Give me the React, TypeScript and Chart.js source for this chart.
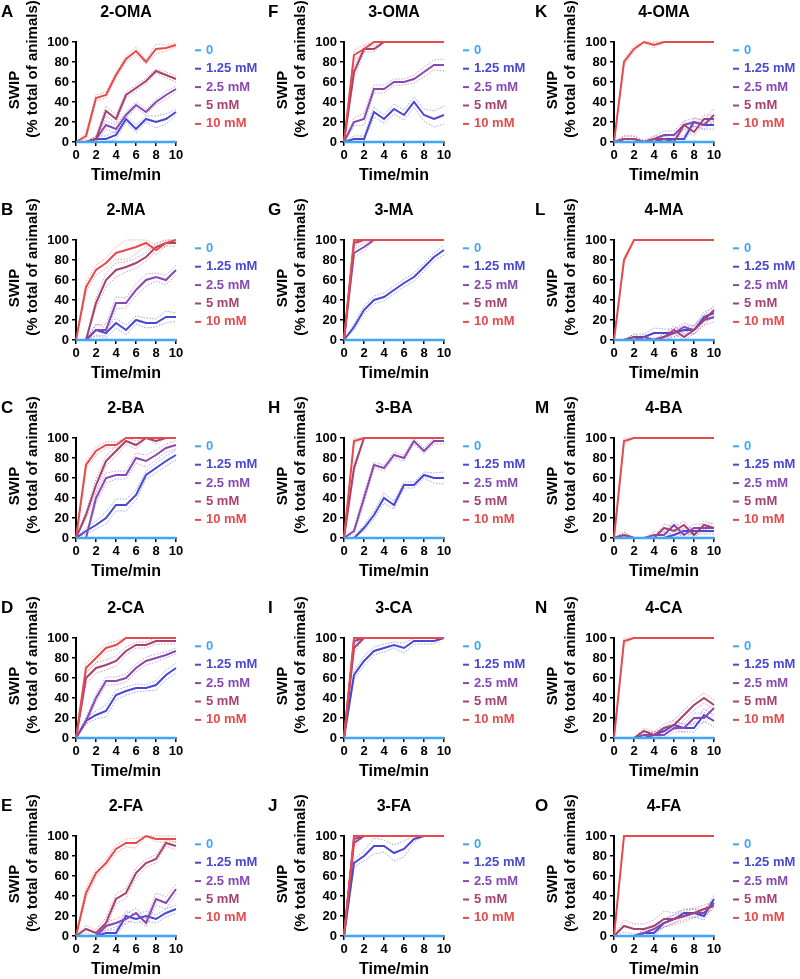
import React, { useEffect, useRef } from "react";
import { Chart, registerables } from "chart.js";

Chart.register(...registerables);

// ---------------- DATA ----------------
const minutes = [0, 1, 2, 3, 4, 5, 6, 7, 8, 9, 10];
const xTickValues = [0, 2, 4, 6, 8, 10];
const yTickValues = [0, 20, 40, 60, 80, 100];
const doseLabels = ["0", "1.25 mM", "2.5 mM", "5 mM", "10 mM"];
const doseColors = ["#3fa6f5", "#4848d4", "#8748b3", "#a5426f", "#e64a4c"];
const bandColors = [
  "rgba(63,166,245,0.5)",
  "rgba(72,72,212,0.5)",
  "rgba(135,72,179,0.5)",
  "rgba(165,66,111,0.5)",
  "rgba(230,74,76,0.5)",
];
const panelLetters = ["A", "B", "C", "D", "E", "F", "G", "H", "I", "J", "K", "L", "M", "N", "O"];
const panelTitles = [
  "2-OMA", "2-MA", "2-BA", "2-CA", "2-FA",
  "3-OMA", "3-MA", "3-BA", "3-CA", "3-FA",
  "4-OMA", "4-MA", "4-BA", "4-CA", "4-FA",
];
const yTitleLines = ["SWIP", "(% total of animals)"];
const xTitle = "Time/min";

// control (0) series, identical in every panel
const control0 = [0, 0, 0, 0, 0, 0, 0, 0, 0, 0, 0];

// means: [1.25 mM, 2.5 mM, 5 mM, 10 mM]
const mean2OMA = [
  [0, 0, 3, 3, 7, 23, 13, 23, 20, 23, 30],
  [0, 0, 3, 17, 13, 27, 37, 30, 40, 47, 53],
  [0, 0, 3, 31, 23, 47, 54, 61, 71, 67, 63],
  [0, 6, 44, 47, 67, 83, 91, 80, 93, 94, 97],
];
const sem2OMA = [
  [0, 0, 3, 3, 4, 3, 4, 3, 6, 5, 3],
  [0, 0, 3, 4, 4, 3, 3, 3, 3, 4, 3],
  [0, 0, 3, 5, 4, 3, 3, 3, 2, 3, 3],
  [0, 3, 3, 3, 3, 3, 4, 2, 5, 3, 2],
];
const mean2MA = [
  [0, 0, 10, 7, 17, 10, 20, 17, 17, 23, 23],
  [0, 0, 10, 10, 37, 37, 50, 60, 63, 60, 70],
  [0, 0, 37, 60, 70, 73, 77, 83, 93, 97, 97],
  [0, 53, 70, 77, 87, 90, 93, 97, 90, 97, 100],
];
const sem2MA = [
  [0, 0, 6, 5, 5, 5, 4, 5, 4, 6, 4],
  [0, 0, 5, 6, 6, 5, 6, 6, 4, 5, 5],
  [0, 0, 5, 7, 7, 5, 5, 4, 4, 3, 3],
  [0, 5, 5, 5, 6, 10, 7, 3, 5, 3, 0],
];
const mean2BA = [
  [0, 7, 13, 20, 33, 33, 43, 63, 70, 77, 83],
  [0, 0, 40, 60, 63, 63, 80, 77, 83, 90, 93],
  [0, 23, 53, 77, 87, 97, 93, 100, 97, 100, 100],
  [0, 73, 87, 93, 93, 100, 100, 100, 100, 100, 100],
];
const sem2BA = [
  [0, 3, 4, 6, 6, 6, 5, 4, 5, 5, 5],
  [0, 0, 5, 5, 4, 4, 5, 6, 5, 4, 4],
  [0, 4, 6, 5, 5, 3, 4, 0, 3, 0, 0],
  [0, 4, 4, 3, 3, 0, 0, 0, 0, 0, 0],
];
const mean2CA = [
  [0, 17, 23, 27, 43, 47, 50, 50, 53, 63, 70],
  [0, 17, 40, 57, 57, 60, 70, 77, 80, 83, 87],
  [0, 60, 70, 73, 77, 87, 93, 93, 97, 97, 97],
  [0, 70, 80, 90, 93, 100, 100, 100, 100, 100, 100],
];
const sem2CA = [
  [0, 3, 4, 6, 5, 4, 4, 3, 5, 5, 5],
  [0, 4, 4, 4, 4, 4, 4, 4, 4, 3, 3],
  [0, 6, 5, 5, 5, 4, 3, 3, 3, 3, 3],
  [0, 5, 5, 4, 4, 0, 0, 0, 0, 0, 0],
];
const mean2FA = [
  [0, 0, 0, 3, 3, 20, 17, 20, 17, 23, 27],
  [0, 0, 0, 10, 13, 17, 23, 13, 37, 33, 47],
  [0, 7, 3, 13, 37, 43, 63, 73, 77, 93, 90],
  [0, 43, 63, 73, 87, 93, 93, 100, 97, 97, 97],
];
const sem2FA = [
  [0, 0, 0, 3, 3, 5, 4, 5, 4, 4, 4],
  [0, 0, 0, 4, 4, 5, 5, 4, 6, 6, 5],
  [0, 4, 3, 5, 5, 5, 5, 4, 4, 3, 4],
  [0, 5, 4, 4, 4, 4, 5, 0, 3, 3, 3],
];
const mean3OMA = [
  [0, 3, 3, 30, 23, 33, 27, 40, 27, 23, 27],
  [0, 20, 23, 53, 53, 60, 60, 63, 70, 77, 77],
  [0, 70, 93, 93, 100, 100, 100, 100, 100, 100, 100],
  [0, 87, 93, 100, 100, 100, 100, 100, 100, 100, 100],
];
const sem3OMA = [
  [0, 3, 3, 5, 4, 5, 5, 5, 6, 8, 9],
  [0, 4, 6, 4, 4, 3, 3, 4, 5, 5, 6],
  [0, 6, 3, 3, 0, 0, 0, 0, 0, 0, 0],
  [0, 5, 4, 0, 0, 0, 0, 0, 0, 0, 0],
];
const mean3MA = [
  [0, 13, 30, 40, 43, 50, 57, 63, 73, 83, 90],
  [0, 87, 93, 100, 100, 100, 100, 100, 100, 100, 100],
  [0, 97, 100, 100, 100, 100, 100, 100, 100, 100, 100],
  [0, 100, 100, 100, 100, 100, 100, 100, 100, 100, 100],
];
const sem3MA = [
  [0, 3, 4, 4, 4, 4, 4, 4, 4, 4, 5],
  [0, 4, 4, 0, 0, 0, 0, 0, 0, 0, 0],
  [0, 3, 0, 0, 0, 0, 0, 0, 0, 0, 0],
  [0, 0, 0, 0, 0, 0, 0, 0, 0, 0, 0],
];
const mean3BA = [
  [0, 0, 10, 23, 40, 33, 53, 53, 63, 60, 60],
  [0, 7, 40, 73, 70, 83, 80, 97, 87, 97, 97],
  [0, 70, 100, 100, 100, 100, 100, 100, 100, 100, 100],
  [0, 97, 100, 100, 100, 100, 100, 100, 100, 100, 100],
];
const sem3BA = [
  [0, 0, 3, 4, 5, 4, 3, 3, 3, 5, 6],
  [0, 3, 5, 3, 3, 3, 3, 3, 3, 3, 3],
  [0, 4, 0, 0, 0, 0, 0, 0, 0, 0, 0],
  [0, 3, 0, 0, 0, 0, 0, 0, 0, 0, 0],
];
const mean3CA = [
  [0, 63, 77, 87, 90, 93, 90, 97, 97, 97, 100],
  [0, 97, 100, 100, 100, 100, 100, 100, 100, 100, 100],
  [0, 90, 100, 100, 100, 100, 100, 100, 100, 100, 100],
  [0, 100, 100, 100, 100, 100, 100, 100, 100, 100, 100],
];
const sem3CA = [
  [0, 4, 5, 4, 4, 3, 5, 3, 3, 3, 0],
  [0, 3, 0, 0, 0, 0, 0, 0, 0, 0, 0],
  [0, 5, 0, 0, 0, 0, 0, 0, 0, 0, 0],
  [0, 0, 0, 0, 0, 0, 0, 0, 0, 0, 0],
];
const mean3FA = [
  [0, 73, 80, 90, 90, 83, 87, 97, 100, 100, 100],
  [0, 97, 100, 100, 100, 100, 100, 100, 100, 100, 100],
  [0, 93, 100, 100, 100, 100, 100, 100, 100, 100, 100],
  [0, 100, 100, 100, 100, 100, 100, 100, 100, 100, 100],
];
const sem3FA = [
  [0, 4, 5, 8, 6, 8, 8, 3, 0, 0, 0],
  [0, 3, 0, 0, 0, 0, 0, 0, 0, 0, 0],
  [0, 4, 0, 0, 0, 0, 0, 0, 0, 0, 0],
  [0, 0, 0, 0, 0, 0, 0, 0, 0, 0, 0],
];
const mean4OMA = [
  [0, 0, 0, 0, 0, 3, 3, 3, 20, 17, 17],
  [0, 3, 3, 0, 3, 7, 7, 17, 20, 17, 27],
  [0, 3, 3, 0, 3, 3, 0, 17, 10, 23, 23],
  [0, 80, 93, 100, 97, 100, 100, 100, 100, 100, 100],
];
const sem4OMA = [
  [0, 0, 0, 0, 0, 3, 3, 3, 4, 4, 4],
  [0, 3, 3, 0, 3, 4, 4, 4, 4, 5, 6],
  [0, 3, 3, 2, 3, 3, 2, 4, 4, 4, 4],
  [0, 3, 3, 0, 3, 0, 0, 0, 0, 0, 0],
];
const mean4MA = [
  [0, 0, 3, 3, 7, 7, 7, 10, 10, 23, 27],
  [0, 0, 0, 3, 0, 3, 7, 13, 10, 20, 23],
  [0, 0, 3, 0, 0, 3, 10, 3, 10, 20, 30],
  [0, 80, 100, 100, 100, 100, 100, 100, 100, 100, 100],
];
const sem4MA = [
  [0, 0, 3, 3, 5, 4, 4, 4, 4, 5, 5],
  [0, 0, 0, 3, 0, 3, 4, 4, 4, 5, 5],
  [0, 0, 3, 0, 0, 3, 4, 3, 4, 5, 5],
  [0, 3, 0, 0, 0, 0, 0, 0, 0, 0, 0],
];
const mean4BA = [
  [0, 0, 0, 0, 0, 0, 3, 7, 7, 7, 7],
  [0, 3, 0, 0, 3, 3, 13, 3, 10, 10, 10],
  [0, 3, 0, 0, 0, 10, 7, 13, 3, 13, 10],
  [0, 97, 100, 100, 100, 100, 100, 100, 100, 100, 100],
];
const sem4BA = [
  [0, 0, 0, 0, 0, 0, 3, 3, 3, 3, 3],
  [0, 3, 0, 0, 3, 3, 4, 3, 4, 4, 4],
  [0, 3, 0, 0, 0, 4, 4, 4, 3, 4, 4],
  [0, 3, 0, 0, 0, 0, 0, 0, 0, 0, 0],
];
const mean4CA = [
  [0, 0, 0, 0, 3, 7, 13, 10, 10, 23, 17],
  [0, 0, 0, 3, 3, 3, 10, 10, 20, 20, 30],
  [0, 0, 0, 7, 3, 10, 13, 23, 33, 40, 33],
  [0, 97, 100, 100, 100, 100, 100, 100, 100, 100, 100],
];
const sem4CA = [
  [0, 0, 0, 0, 3, 4, 4, 4, 4, 6, 6],
  [0, 0, 0, 3, 3, 3, 4, 4, 5, 5, 6],
  [0, 0, 0, 3, 3, 4, 5, 5, 5, 5, 5],
  [0, 3, 0, 0, 0, 0, 0, 0, 0, 0, 0],
];
const mean4FA = [
  [0, 0, 0, 3, 3, 13, 17, 23, 23, 20, 37],
  [0, 0, 0, 3, 7, 13, 17, 20, 23, 23, 33],
  [0, 10, 7, 7, 10, 17, 17, 20, 23, 27, 30],
  [0, 100, 100, 100, 100, 100, 100, 100, 100, 100, 100],
];
const sem4FA = [
  [0, 0, 0, 3, 3, 4, 4, 4, 4, 4, 4],
  [0, 0, 0, 3, 4, 4, 4, 4, 4, 4, 4],
  [0, 6, 5, 5, 6, 8, 6, 6, 5, 4, 4],
  [0, 0, 0, 0, 0, 0, 0, 0, 0, 0, 0],
];

const panelMeans = [
  mean2OMA, mean2MA, mean2BA, mean2CA, mean2FA,
  mean3OMA, mean3MA, mean3BA, mean3CA, mean3FA,
  mean4OMA, mean4MA, mean4BA, mean4CA, mean4FA,
];
const panelSems = [
  sem2OMA, sem2MA, sem2BA, sem2CA, sem2FA,
  sem3OMA, sem3MA, sem3BA, sem3CA, sem3FA,
  sem4OMA, sem4MA, sem4BA, sem4CA, sem4FA,
];

// ---------------- LAYOUT ----------------
const FONT = '"Liberation Sans", Arial, Helvetica, sans-serif';
const CANVAS_W = 266;
const CANVAS_H = 192;
const colLeft = [0, 267, 534];
const rowTop = [0, 198, 396, 596, 794];
const plotLeft = [76, 77, 80];
const PLOT_TOP = 42;
const PLOT_W = 100;
const PLOT_H = 100;
const Y_AXIS_W = 40;
const X_AXIS_H = 40;

function clampPct(v: number) {
  return Math.max(0, Math.min(100, v));
}

function buildConfig(panel: number, col: number) {
  const means = panelMeans[panel];
  const sems = panelSems[panel];
  const datasets: any[] = [];
  // error band (mean ± SEM) dotted lines
  for (let d = 0; d < 4; d++) {
    for (const sign of [1, -1]) {
      datasets.push({
        data: minutes.map((x, i) => ({ x, y: clampPct(means[d][i] + sign * sems[d][i]) })),
        borderColor: bandColors[d + 1],
        borderWidth: 1,
        borderDash: [1.5, 1.5],
        pointRadius: 0,
        tension: 0,
        order: 20 + d,
        clip: 3,
      });
    }
  }
  // mean lines
  for (let d = 3; d >= 0; d--) {
    datasets.push({
      data: minutes.map((x, i) => ({ x, y: means[d][i] })),
      borderColor: doseColors[d + 1],
      borderWidth: 2,
      pointRadius: 0,
      tension: 0,
      order: 5 - d,
      clip: 3,
    });
  }
  datasets.push({
    data: minutes.map((x, i) => ({ x, y: control0[i] })),
    borderColor: doseColors[0],
    borderWidth: 2.5,
    pointRadius: 0,
    tension: 0,
    order: 0,
    clip: 4,
  });

  const L = plotLeft[col];
  const tickFont = { family: FONT, size: 13, weight: "bold" as const };

  const textPlugin = {
    id: "panelText" + panel,
    afterDraw(chart: any) {
      const ctx = chart.ctx as CanvasRenderingContext2D;
      const a = chart.chartArea;
      const cx = (a.left + a.right) / 2;
      ctx.save();
      ctx.fillStyle = "#000";
      // panel letter
      ctx.font = `bold 17px ${FONT}`;
      ctx.textAlign = "left";
      ctx.textBaseline = "alphabetic";
      ctx.fillText(panelLetters[panel], 1, a.top - 25);
      // panel title
      ctx.font = `bold 16px ${FONT}`;
      ctx.textAlign = "center";
      ctx.textBaseline = "middle";
      ctx.fillText(panelTitles[panel], cx, a.top - 29);
      // x title
      ctx.fillText(xTitle, cx, a.bottom + 34);
      // y titles
      ctx.font = `bold 15px ${FONT}`;
      ctx.save();
      ctx.translate(a.left - 61, a.top + 48);
      ctx.rotate(-Math.PI / 2);
      ctx.fillText(yTitleLines[0], 0, 0);
      ctx.restore();
      ctx.save();
      ctx.translate(a.left - 43, a.top + 27);
      ctx.rotate(-Math.PI / 2);
      ctx.fillText(yTitleLines[1], 0, 0);
      ctx.restore();
      // legend
      ctx.font = `bold 13px ${FONT}`;
      ctx.textAlign = "left";
      for (let i = 0; i < doseLabels.length; i++) {
        const y = a.top + 8.3 + 18.4 * i;
        ctx.strokeStyle = doseColors[i];
        ctx.lineWidth = 2;
        ctx.beginPath();
        ctx.moveTo(a.right + 19, y);
        ctx.lineTo(a.right + 25, y);
        ctx.stroke();
        ctx.fillStyle = doseColors[i];
        ctx.fillText(doseLabels[i], a.right + 30, y);
      }
      ctx.restore();
    },
  };

  return {
    type: "line" as const,
    data: { datasets },
    plugins: [textPlugin],
    options: {
      animation: false as const,
      responsive: false,
      devicePixelRatio: 1,
      events: [],
      layout: {
        padding: {
          left: L - Y_AXIS_W,
          top: PLOT_TOP,
          right: CANVAS_W - (L + PLOT_W),
          bottom: CANVAS_H - (PLOT_TOP + PLOT_H) - X_AXIS_H,
        },
      },
      plugins: { legend: { display: false }, tooltip: { enabled: false }, title: { display: false } },
      scales: {
        x: {
          type: "linear" as const,
          min: 0,
          max: 10,
          afterBuildTicks: (s: any) => {
            s.ticks = xTickValues.map((v) => ({ value: v }));
          },
          afterFit: (s: any) => {
            s.height = X_AXIS_H;
          },
          ticks: { font: tickFont, color: "#000", padding: 2, maxRotation: 0, autoSkip: false },
          grid: { drawOnChartArea: false, drawTicks: true, tickLength: 4, color: "#000", lineWidth: 1.5 },
          border: { display: true, color: "#000", width: 2 },
        },
        y: {
          type: "linear" as const,
          min: 0,
          max: 100,
          afterBuildTicks: (s: any) => {
            s.ticks = yTickValues.map((v) => ({ value: v }));
          },
          afterFit: (s: any) => {
            s.width = Y_AXIS_W;
          },
          ticks: { font: tickFont, color: "#000", padding: 3, autoSkip: false },
          grid: { drawOnChartArea: false, drawTicks: true, tickLength: 4, color: "#000", lineWidth: 1.5 },
          border: { display: true, color: "#000", width: 2 },
        },
      },
    },
  };
}

function Panel({ panel }: { panel: number }) {
  const ref = useRef<HTMLCanvasElement>(null);
  const col = Math.floor(panel / 5);
  const row = panel % 5;
  useEffect(() => {
    if (!ref.current) return;
    const chart = new Chart(ref.current, buildConfig(panel, col) as any);
    return () => chart.destroy();
  }, [panel, col]);
  return (
    <canvas
      ref={ref}
      width={CANVAS_W}
      height={CANVAS_H}
      style={{
        position: "absolute",
        left: colLeft[col],
        top: rowTop[row],
        width: CANVAS_W,
        height: CANVAS_H,
      }}
    />
  );
}

export default function App() {
  return (
    <div
      style={{
        position: "absolute",
        left: 0,
        top: 0,
        width: 800,
        height: 979,
        overflow: "hidden",
        background: "#fff",
      }}
    >
      {panelTitles.map((_, i) => (
        <Panel key={i} panel={i} />
      ))}
    </div>
  );
}
